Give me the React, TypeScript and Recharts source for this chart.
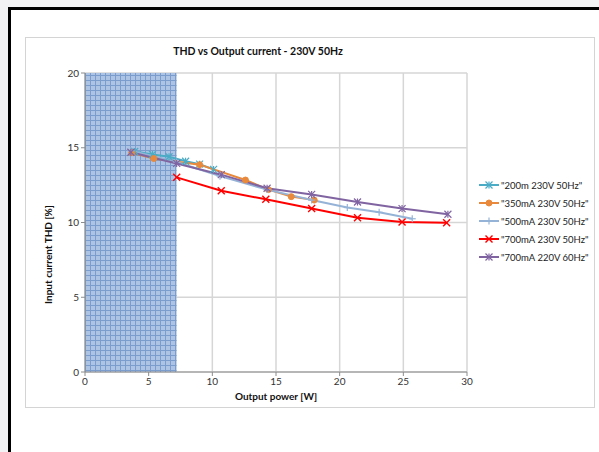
import React from "react";
import {
  ComposedChart,
  Line,
  XAxis,
  YAxis,
  CartesianGrid,
  ReferenceArea,
  Label,
} from "recharts";

const title = "THD vs Output current - 230V 50Hz";
const xTitle = "Output power [W]";
const yTitle = "Input current THD [%]";
const xTicks = [0, 5, 10, 15, 20, 25, 30];
const yTicks = [0, 5, 10, 15, 20];
const shadedUntil = 7.2;

const s200m = [
  { x: 3.9, y: 14.75 },
  { x: 5.3, y: 14.55 },
  { x: 6.6, y: 14.4 },
  { x: 7.9, y: 14.1 },
  { x: 9.0, y: 13.9 },
  { x: 10.1, y: 13.55 },
];
const s350 = [
  { x: 3.67, y: 14.67 },
  { x: 5.4, y: 14.28 },
  { x: 9.0, y: 13.87 },
  { x: 12.6, y: 12.84 },
  { x: 14.4, y: 12.2 },
  { x: 16.2, y: 11.73 },
  { x: 18.0, y: 11.5 },
];
const s500 = [
  { x: 3.6, y: 14.8 },
  { x: 7.2, y: 14.05 },
  { x: 10.6, y: 13.1 },
  { x: 14.3, y: 12.2 },
  { x: 17.8, y: 11.5 },
  { x: 20.6, y: 11.0 },
  { x: 23.1, y: 10.68 },
  { x: 25.7, y: 10.25 },
];
const s700 = [
  { x: 7.2, y: 13.02 },
  { x: 10.7, y: 12.13 },
  { x: 14.2, y: 11.55 },
  { x: 17.8, y: 10.93 },
  { x: 21.4, y: 10.32 },
  { x: 24.9, y: 10.03 },
  { x: 28.4, y: 9.99 },
];
const s700_220 = [
  { x: 3.6, y: 14.7 },
  { x: 7.2, y: 13.95 },
  { x: 10.7, y: 13.2 },
  { x: 14.3, y: 12.29 },
  { x: 17.8, y: 11.88 },
  { x: 21.4, y: 11.37 },
  { x: 24.9, y: 10.93 },
  { x: 28.5, y: 10.55 },
];

const seriesNames = [
  '"200m 230V 50Hz"',
  '"350mA 230V 50Hz"',
  '"500mA 230V 50Hz"',
  '"700mA 230V 50Hz"',
  '"700mA 220V 60Hz"',
];

const series = [
  { name: seriesNames[0], data: s200m, color: "#4bacc6", marker: "star" },
  { name: seriesNames[1], data: s350, color: "#e8893c", marker: "circle" },
  { name: seriesNames[2], data: s500, color: "#95b3d7", marker: "plus" },
  { name: seriesNames[3], data: s700, color: "#ff0000", marker: "x" },
  { name: seriesNames[4], data: s700_220, color: "#8064a2", marker: "star" },
];

const FONT = "Lato, 'Liberation Sans', sans-serif";

function Marker({ kind, cx, cy, color }: { kind: string; cx: number; cy: number; color: string }) {
  const r = 3.5;
  if (kind === "circle") {
    return <circle cx={cx} cy={cy} r={3} fill={color} stroke={color} />;
  }
  if (kind === "plus") {
    return (
      <g stroke={color} strokeWidth={1.2}>
        <line x1={cx - r} y1={cy} x2={cx + r} y2={cy} />
        <line x1={cx} y1={cy - r} x2={cx} y2={cy + r} />
      </g>
    );
  }
  if (kind === "x") {
    return (
      <g stroke={color} strokeWidth={1.4}>
        <line x1={cx - r} y1={cy - r} x2={cx + r} y2={cy + r} />
        <line x1={cx - r} y1={cy + r} x2={cx + r} y2={cy - r} />
      </g>
    );
  }
  return (
    <g stroke={color} strokeWidth={1.2}>
      <line x1={cx - r} y1={cy - r} x2={cx + r} y2={cy + r} />
      <line x1={cx - r} y1={cy + r} x2={cx + r} y2={cy - r} />
      <line x1={cx} y1={cy - r} x2={cx} y2={cy + r} />
    </g>
  );
}

function makeDot(kind: string, color: string) {
  return (props: any) => {
    const { cx, cy, index } = props;
    if (cx == null || cy == null) return <g key={`d${index}`} />;
    return (
      <g key={`d${index}`}>
        <Marker kind={kind} cx={cx} cy={cy} color={color} />
      </g>
    );
  };
}

function LegendBox() {
  return (
    <div
      style={{
        position: "absolute",
        left: 478,
        top: 176,
        fontFamily: FONT,
        fontSize: 9.5,
        color: "#222",
        whiteSpace: "nowrap",
      }}
    >
      {series.map((s) => (
        <div key={s.name} style={{ display: "flex", alignItems: "center", height: 18 }}>
          <svg width={22} height={10} style={{ marginRight: 1 }}>
            <line x1={1} y1={5} x2={21} y2={5} stroke={s.color} strokeWidth={2} />
            <Marker kind={s.marker} cx={11} cy={5} color={s.color} />
          </svg>
          <span>{s.name}</span>
        </div>
      ))}
    </div>
  );
}

export default function App() {
  return (
    <div
      style={{
        position: "absolute",
        left: 0,
        top: 0,
        width: 599,
        height: 452,
        background: "#f2f2f4",
        overflow: "hidden",
      }}
    >
      <div
        style={{
          position: "absolute",
          left: 8,
          top: 7,
          right: 0,
          bottom: 0,
          background: "#ffffff",
          borderLeft: "3px solid #000",
          borderTop: "3px solid #000",
        }}
      />
      <div
        style={{
          position: "absolute",
          left: 25,
          top: 37,
          width: 568,
          height: 369,
          border: "1.5px solid #d4d4d4",
          background: "#fff",
        }}
      />
      <div
        style={{
          position: "absolute",
          left: 0,
          top: 45,
          width: 516,
          textAlign: "center",
          fontFamily: FONT,
          fontWeight: 700,
          fontSize: 10.5,
          color: "#111",
        }}
      >
        {title}
      </div>
      <div style={{ position: "absolute", left: 0, top: 0 }}>
        <ComposedChart
          width={599}
          height={452}
          margin={{ top: 73, right: 132, bottom: 50, left: 55 }}
        >
          <defs>
            <pattern id="hatch" width="5" height="5" patternUnits="userSpaceOnUse">
              <rect width="5" height="5" fill="#aec4e4" />
              <line x1="0" y1="0.5" x2="5" y2="0.5" stroke="#7a9dcd" strokeWidth="1" />
              <line x1="0.5" y1="0" x2="0.5" y2="5" stroke="#7a9dcd" strokeWidth="1" />
            </pattern>
          </defs>
          <CartesianGrid stroke="#d6d6d6" strokeWidth={1.5} />
          <XAxis
            dataKey="x"
            type="number"
            domain={[0, 30]}
            ticks={xTicks}
            height={30}
            allowDuplicatedCategory={false}
            stroke="#8c8c8c"
            tickSize={4}
            tick={{ fontFamily: FONT, fontSize: 10, fill: "#333" }}
          >
            <Label
              value={xTitle}
              position="insideBottom"
              offset={2}
              style={{ fontFamily: FONT, fontSize: 10, fontWeight: 700, fill: "#111" }}
            />
          </XAxis>
          <YAxis
            type="number"
            domain={[0, 20]}
            ticks={yTicks}
            width={30}
            stroke="#8c8c8c"
            tickSize={4}
            tick={{ fontFamily: FONT, fontSize: 10, fill: "#333" }}
          >
            <Label
              value={yTitle}
              angle={-90}
              position="insideLeft"
              offset={0}
              dy={32}
              dx={-7}
              style={{ fontFamily: FONT, fontSize: 10, fontWeight: 700, fill: "#111", textAnchor: "middle" }}
            />
          </YAxis>
          <ReferenceArea
            x1={0}
            x2={shadedUntil}
            y1={0}
            y2={20}
            fill="url(#hatch)"
            fillOpacity={1}
            stroke="none"
            ifOverflow="hidden"
          />
          {series.map((s) => (
            <Line
              key={s.name}
              name={s.name}
              data={s.data}
              dataKey="y"
              type="linear"
              stroke={s.color}
              strokeWidth={2}
              dot={makeDot(s.marker, s.color)}
              activeDot={false}
              isAnimationActive={false}
            />
          ))}
        </ComposedChart>
      </div>
      <LegendBox />
    </div>
  );
}
